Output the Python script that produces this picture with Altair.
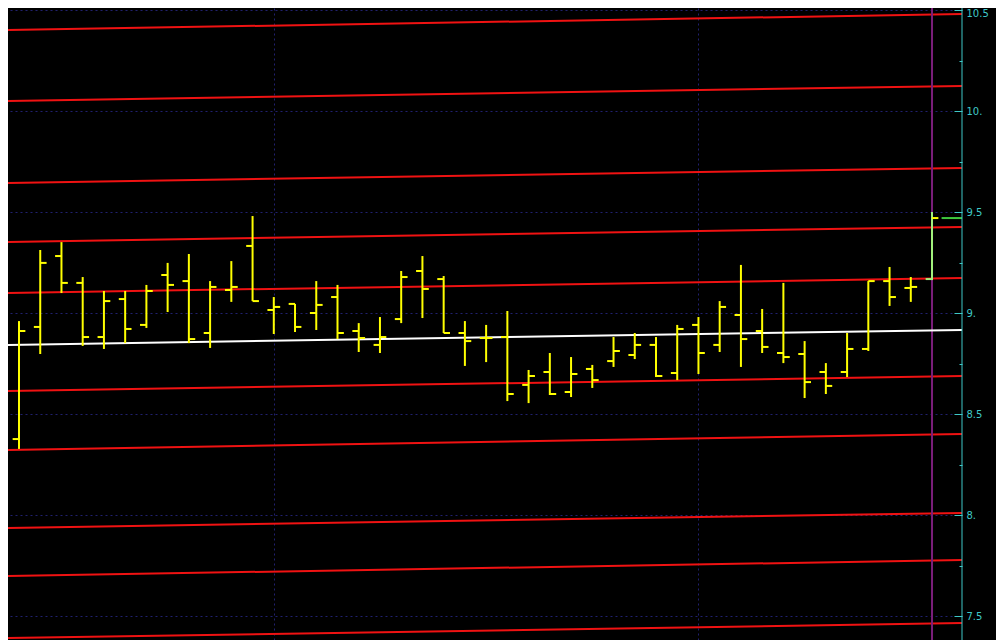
import altair as alt
import pandas as pd

# ---- OHLC data (44 bars) ----
opens = [8.376, 8.931, 9.282, 9.149, 8.881, 9.069, 8.941, 9.188, 9.158, 8.901,
         9.114, 9.332, 9.015, 9.045, 9.000, 9.079, 8.911, 8.842, 8.970, 9.208,
         9.168, 8.901, 8.876, 8.881, 8.644, 8.708, 8.609, 8.723, 8.762, 8.792,
         8.842, 8.703, 8.941, 8.842, 8.990, 8.911, 8.802, 8.797, 8.708, 8.708,
         8.822, 9.158, 9.124, 9.168]
highs = [8.960, 9.312, 9.351, 9.178, 9.109, 9.109, 9.139, 9.248, 9.292, 9.158,
         9.257, 9.480, 9.079, 9.045, 9.158, 9.139, 8.950, 8.980, 9.208, 9.282,
         9.183, 8.960, 8.941, 9.010, 8.718, 8.802, 8.782, 8.743, 8.881, 8.901,
         8.881, 8.941, 8.980, 9.059, 9.238, 9.020, 9.149, 8.861, 8.752, 8.901,
         9.158, 9.228, 9.178, 9.500]
lows = [8.327, 8.797, 9.099, 8.837, 8.822, 8.851, 8.926, 9.005, 8.851, 8.827,
        9.055, 9.059, 8.896, 8.906, 8.916, 8.871, 8.807, 8.802, 8.950, 8.975,
        8.901, 8.738, 8.757, 8.564, 8.554, 8.594, 8.584, 8.629, 8.733, 8.772,
        8.683, 8.668, 8.698, 8.807, 8.733, 8.802, 8.752, 8.579, 8.599, 8.683,
        8.812, 9.035, 9.055, 9.163]
closes = [8.911, 9.248, 9.149, 8.881, 9.059, 8.921, 9.109, 9.139, 8.871, 9.129,
          9.129, 9.059, 9.030, 8.931, 9.040, 8.901, 8.876, 8.881, 9.178, 9.119,
          8.901, 8.861, 8.876, 8.599, 8.688, 8.599, 8.698, 8.668, 8.812, 8.842,
          8.688, 8.921, 8.802, 9.030, 8.871, 8.832, 8.782, 8.658, 8.639, 8.822,
          9.158, 9.079, 9.129, 9.470]

# ---- sloping channel lines (value at left edge, value at right edge) ----
red_left = [10.401, 10.050, 9.644, 9.352, 9.099, 8.614, 8.322, 7.936, 7.698, 7.391]
red_right = [10.480, 10.124, 9.718, 9.426, 9.173, 8.688, 8.401, 8.010, 7.777, 7.465]
white_left = [8.842]
white_right = [8.916]

# ---- axis ticks / grid ----
y_ticks = [7.5, 7.75, 8.0, 8.25, 8.5, 8.75, 9.0, 9.25, 9.5, 9.75, 10.0, 10.25, 10.5]
x_grid = [12, 32]
marker_bar = [43]

# ---- view settings ----
XMIN, XMAX = -0.518, 44.412
YMIN, YMAX = 7.3812, 10.5099
TICK = 0.3
W, H = 954, 632

YELLOW = "#ffff00"
LASTGREEN = "#a2f07c"
RED = "#f01212"
PURPLE = "#7a1e7a"
CYAN = "#3ec8c8"
GRID = "#20206e"

n = len(highs)
bar_colors = [YELLOW] * (n - 1) + [LASTGREEN]
df = pd.DataFrame({"i": list(range(n)), "o": opens, "h": highs, "l": lows,
                   "c": closes, "col": bar_colors})
df["ox"] = df["i"] - TICK
df["cx"] = df["i"] + TICK

red_rows = []
for k, (a, b) in enumerate(zip(red_left, red_right)):
    red_rows.append({"line": k, "x": XMIN, "v": a})
    red_rows.append({"line": k, "x": XMAX, "v": b})
red_df = pd.DataFrame(red_rows)
white_df = pd.DataFrame({"line": [0, 0], "x": [XMIN, XMAX],
                         "v": [white_left[0], white_right[0]]})

xscale = alt.Scale(domain=[XMIN, XMAX], nice=False, zero=False)
yscale = alt.Scale(domain=[YMIN, YMAX], nice=False, zero=False)

major = "datum.value % 0.5 === 0"
top_tick = "datum.value === %s" % max(y_ticks)
yaxis = alt.Axis(
    orient="right", values=y_ticks, title=None, offset=-8,
    labelExpr="datum.value % 0.5 === 0 ? (datum.value % 1 === 0 ? format(datum.value, 'd') + '.' : format(datum.value, '.1f')) : ''",
    labelColor=CYAN, labelFont="DejaVu Sans", labelFontSize=10,
    labelAlign="left", labelBaseline="middle", labelPadding=4,
    labelOffset={"condition": {"test": top_tick, "value": 4}, "value": 0},
    labelOverlap=False, labelBound=False, labelFlush=False,
    domain=False,
    tickColor=CYAN, tickWidth=1, tickSize=8,
    tickDash={"condition": {"test": major, "value": [10, 1]}, "value": [0, 5, 3, 20]},
    grid=True, gridColor=GRID, gridWidth=1, gridDash=[2, 3],
    gridOpacity={"condition": {"test": major, "value": 1}, "value": 0},
)
xaxis = alt.Axis(values=x_grid, title=None, labels=False, ticks=False,
                 domain=False, grid=True, gridColor=GRID, gridWidth=1,
                 gridDash=[2, 3])


def X(field):
    return alt.X(field, type="quantitative", scale=xscale, axis=xaxis)


def Y(field):
    return alt.Y(field, type="quantitative", scale=yscale, axis=yaxis)


purple = alt.Chart(pd.DataFrame({"x": marker_bar})).mark_rule(
    color=PURPLE, strokeWidth=2).encode(x=X("x"))

red = alt.Chart(red_df).mark_line(color=RED, strokeWidth=2, clip=True).encode(
    x=X("x"), y=Y("v"), detail="line:N")

white = alt.Chart(white_df).mark_line(color="#ffffff", strokeWidth=2, clip=True).encode(
    x=X("x"), y=Y("v"))

base = alt.Chart(df)
hl = base.mark_rule(strokeWidth=2).encode(
    x=X("i"), y=Y("l"), y2="h:Q", color=alt.Color("col:N", scale=None))
op = base.mark_rule(strokeWidth=2).encode(
    x=X("ox"), x2="i:Q", y=Y("o"), color=alt.Color("col:N", scale=None))
cl = base.mark_rule(strokeWidth=2, color=YELLOW).encode(
    x=X("i"), x2="cx:Q", y=Y("c"))

last_df = pd.DataFrame({"x0": [n - 1 + 0.45], "x1": [XMAX], "v": [closes[-1]]})
lastline = alt.Chart(last_df).mark_rule(strokeWidth=2, color="#3ec83e").encode(
    x=X("x0"), x2="x1:Q", y=Y("v"))

# cyan price-axis line at the right edge of the plot
axis_line = alt.Chart(pd.DataFrame({"x": [XMAX]})).mark_rule(
    color=CYAN, strokeWidth=1).encode(x=X("x"))

chart = alt.layer(red, purple, white, hl, op, cl, lastline, axis_line).properties(
    width=W, height=H, background="black",
    padding={"left": 0, "top": 0, "right": 34, "bottom": 0},
    autosize=alt.AutoSizeParams(type="none"),
).configure_view(strokeWidth=0)

chart.save("out.html", embed_options={"renderer": "svg", "actions": False})
